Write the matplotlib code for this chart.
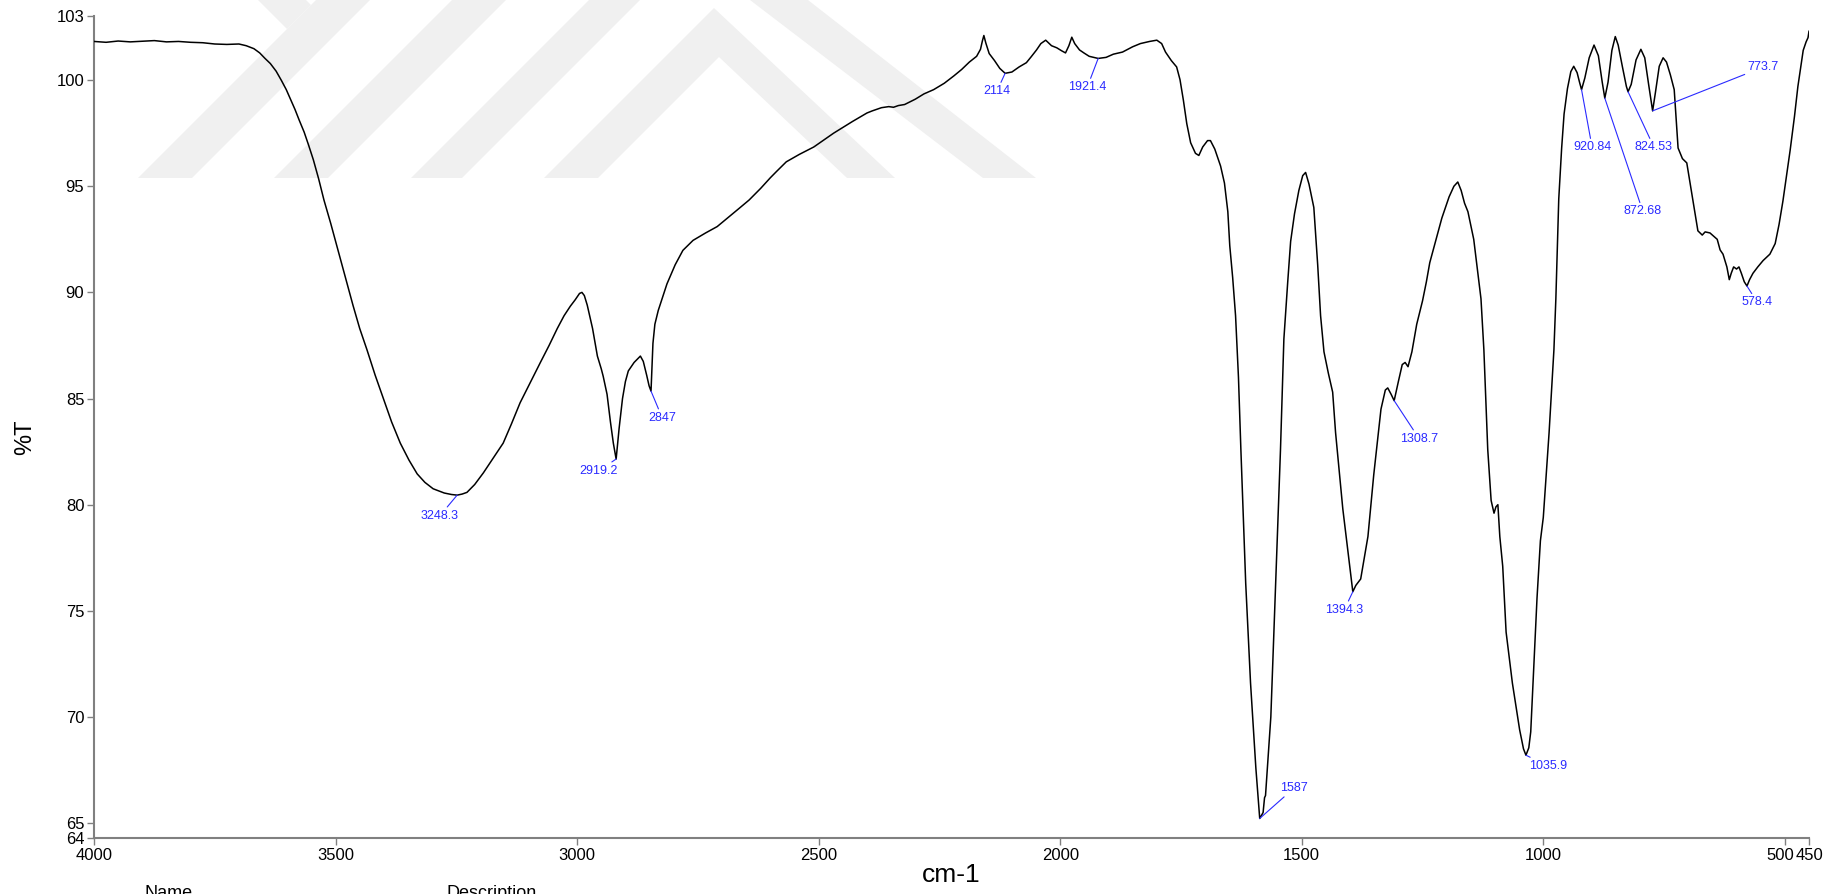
import matplotlib.pyplot as plt
from matplotlib.patches import Polygon
from matplotlib.transforms import Affine2D, ScaledTranslation
import numpy as np

plt.rcParams['font.family'] = ['Liberation Sans', 'DejaVu Sans']

# IR spectrum, wavenumber (cm-1) against transmittance (%T)
wavenumber = [
    4000, 3975, 3950, 3925, 3900, 3875, 3850, 3825, 3800, 3775, 3750, 3725,
    3700, 3685, 3669, 3657, 3646, 3635, 3623, 3612, 3602, 3593, 3584, 3575,
    3565, 3556, 3546, 3535, 3524, 3510, 3495, 3480, 3464, 3450, 3435, 3418,
    3401, 3384, 3366, 3348, 3331, 3315, 3298, 3275, 3260, 3248.3, 3238, 3228,
    3212, 3194, 3175, 3153, 3136, 3118, 3097, 3076, 3058, 3041, 3027, 3014,
    3004, 2995, 2990, 2985, 2979, 2968, 2958, 2950, 2946, 2938, 2931, 2925,
    2919.2, 2913, 2906, 2900, 2894, 2882, 2869, 2863, 2856, 2851, 2847, 2843,
    2839, 2832, 2822, 2814, 2797, 2781, 2760, 2734, 2710, 2686, 2665, 2644,
    2620, 2600, 2587, 2567, 2540, 2510, 2469, 2430, 2400, 2389, 2370, 2355,
    2345, 2335, 2322, 2300, 2282, 2262, 2240, 2220, 2204, 2188, 2173, 2165,
    2161, 2158, 2154, 2147, 2136, 2125, 2114, 2100, 2085, 2070, 2060, 2049,
    2040, 2030, 2018, 2007, 1997, 1989, 1982, 1976, 1970, 1960, 1951, 1940,
    1921.4, 1905, 1890, 1871, 1850, 1834, 1815, 1800, 1790, 1782, 1770, 1759,
    1752, 1745, 1738, 1730, 1720, 1713, 1705, 1695, 1689, 1680, 1668, 1660,
    1653, 1649, 1643, 1637, 1631, 1626, 1616, 1606, 1595, 1587, 1580, 1577,
    1575, 1564, 1554, 1544, 1537, 1529, 1523, 1515, 1506, 1498, 1492, 1485,
    1475, 1467, 1461, 1454, 1445, 1436, 1430, 1415, 1405, 1398, 1394.3, 1388,
    1383, 1378, 1363, 1351, 1336, 1327, 1322, 1315, 1308.7, 1300, 1292, 1286,
    1280, 1272, 1262, 1250, 1242, 1235, 1222, 1210, 1195, 1185, 1177, 1170,
    1163, 1156, 1144, 1129, 1123, 1115, 1108, 1102, 1098, 1094, 1090, 1084,
    1077, 1064, 1049, 1041, 1035.9, 1030, 1026, 1020, 1013, 1006, 1000, 988,
    978, 974, 968, 962, 957, 950, 943, 937, 930, 925, 920.84, 914,
    905, 895, 886, 878, 872.68, 866, 858, 851, 845, 836, 828, 824.53,
    818, 808, 798, 790, 782, 773.7, 768, 760, 752, 745, 737, 729,
    721, 712, 703, 690, 680, 671, 665, 655, 640, 634, 628, 620,
    615, 611, 606, 600, 595, 590, 584, 578.4, 573, 566, 556, 545,
    531, 520, 512, 504, 496, 489, 480, 473, 466, 462, 456, 452,
    450,
]
transmittance = [
    101.82, 101.78, 101.84, 101.80, 101.83, 101.86, 101.80, 101.82, 101.78, 101.76, 101.70, 101.68,
    101.70, 101.62, 101.48, 101.28, 101.02, 100.78, 100.42, 99.98, 99.55, 99.08, 98.62, 98.10,
    97.55, 96.95, 96.25, 95.35, 94.35, 93.25, 92.00, 90.75, 89.40, 88.30, 87.30, 86.10,
    85.00, 83.90, 82.90, 82.10, 81.45, 81.05, 80.75, 80.55, 80.48, 80.45, 80.50, 80.58,
    80.95, 81.50, 82.15, 82.90, 83.80, 84.80, 85.75, 86.70, 87.50, 88.30, 88.90, 89.35,
    89.65, 89.95, 90.00, 89.85, 89.40, 88.30, 87.00, 86.40, 86.05, 85.20, 83.90, 82.90,
    82.15, 83.60, 85.00, 85.80, 86.30, 86.70, 87.00, 86.75, 86.10, 85.60, 85.35, 87.60,
    88.50, 89.15, 89.85, 90.40, 91.30, 91.98, 92.45, 92.80, 93.10, 93.55, 93.95, 94.35,
    94.90, 95.40, 95.70, 96.15, 96.50, 96.85, 97.50, 98.05, 98.45, 98.55, 98.70, 98.75,
    98.72, 98.80, 98.85, 99.10, 99.35, 99.55, 99.85, 100.20, 100.50, 100.85, 101.12, 101.45,
    101.85, 102.10, 101.75, 101.25, 100.92, 100.55, 100.32, 100.38, 100.62, 100.82, 101.10, 101.42,
    101.72, 101.88, 101.62, 101.52, 101.38, 101.28, 101.62, 102.02, 101.72, 101.42, 101.28, 101.12,
    101.02, 101.07, 101.22, 101.32, 101.57, 101.72, 101.82, 101.88, 101.72, 101.32, 100.92, 100.62,
    100.02, 99.05, 97.95, 97.05, 96.55, 96.45, 96.85, 97.15, 97.15, 96.75, 95.95, 95.15,
    93.80, 92.20, 90.70, 88.90, 86.00, 82.60, 76.30, 71.60, 67.60, 65.22, 65.50, 66.20,
    66.30, 70.00, 76.30, 82.60, 87.80, 90.50, 92.40, 93.70, 94.80, 95.50, 95.65, 95.10,
    94.00, 91.30, 88.90, 87.20, 86.20, 85.30, 83.40, 79.80, 77.90, 76.60, 75.90, 76.20,
    76.35, 76.50, 78.50, 81.40, 84.50, 85.40, 85.50, 85.20, 84.90, 85.80, 86.60, 86.70,
    86.50, 87.20, 88.50, 89.60, 90.50, 91.40, 92.50, 93.50, 94.50, 95.00, 95.20, 94.80,
    94.20, 93.80, 92.50, 89.70, 87.30, 82.60, 80.20, 79.60, 79.90, 80.00, 78.50, 77.10,
    74.00, 71.60, 69.40, 68.50, 68.20, 68.55, 69.30, 72.20, 75.60, 78.30, 79.40, 83.40,
    87.30, 89.70, 94.40, 96.80, 98.40, 99.60, 100.40, 100.65, 100.35, 99.90, 99.55, 100.10,
    101.05, 101.65, 101.15, 99.90, 99.15, 99.90, 101.40, 102.05, 101.65, 100.60, 99.70, 99.45,
    99.80, 100.95, 101.45, 101.05, 99.80, 98.55, 99.40, 100.65, 101.05, 100.85, 100.25, 99.55,
    96.80, 96.30, 96.10, 94.30, 92.90, 92.70, 92.85, 92.80, 92.50, 92.00, 91.80, 91.20,
    90.60, 90.90, 91.20, 91.10, 91.20, 90.90, 90.50, 90.30, 90.60, 90.90, 91.20, 91.50,
    91.80, 92.30, 93.20, 94.30, 95.60, 96.70, 98.30, 99.70, 100.80, 101.40, 101.80, 102.00,
    102.30,
]

peak_positions = [3248.3, 2919.2, 2847, 2114, 1921.4, 1587, 1394.3, 1308.7,
                  1035.9, 920.84, 872.68, 824.53, 773.7, 578.4]
peak_labels = ['3248.3', '2919.2', '2847', '2114', '1921.4', '1587', '1394.3',
               '1308.7', '1035.9', '920.84', '872.68', '824.53', '773.7', '578.4']

x_ticks = [4000, 3500, 3000, 2500, 2000, 1500, 1000, 500, 450]
y_ticks = [64.3, 65, 70, 75, 80, 85, 90, 95, 100, 103]
y_tick_labels = ['64', '65', '70', '75', '80', '85', '90', '95', '100', '103']

# where the peak labels sit, in (cm-1, %T)
label_spots = [(3284, 79.48), (2955, 81.6), (2824, 84.1), (2131, 99.48),
               (1944, 99.67), (1516, 66.65), (1412, 75.05), (1257, 83.11),
               (990, 67.69), (899, 96.84), (794, 93.82), (771, 96.84),
               (545, 100.61), (557, 89.53)]

W, H = 1843, 894
BLUE = '#2a2aff'
GREY = '#808080'

fig = plt.figure(figsize=(W / 100, H / 100), dpi=100)

# faint watermark behind the plot, outlined in pixels from the top-left corner
px = Affine2D().scale(1 / W, -1 / H).translate(0, 1) + fig.transFigure
watermark = [
    [(138, 178), (192, 178), (370, 0), (316, 0)],
    [(258, 0), (306, 0), (311, 5), (287, 29)],
    [(274, 178), (328, 178), (506, 0), (452, 0)],
    [(411, 178), (462, 178), (640, 0), (589, 0)],
    [(544, 178), (598, 178), (719, 57), (847, 178), (895, 178), (714, 8)],
    [(750, 0), (808, 0), (1036, 178), (983, 178)],
]
for pts in watermark:
    fig.add_artist(Polygon(pts, closed=True, transform=px, facecolor='#f0f0f0',
                           edgecolor='none', zorder=-10))

ax = fig.add_axes([94 / W, 1 - 838 / H, (1809 - 94) / W, (838 - 16.4) / H])
ax.set_facecolor('none')

ax.plot(wavenumber, transmittance, color='black', lw=1.1, zorder=3)

ax.set_xlim(4000, 450)
ax.set_ylim(64.3, 103)
ax.set_xticks(x_ticks)
ax.set_xticklabels([str(t) for t in x_ticks])
ax.set_yticks(y_ticks)
ax.set_yticklabels(y_tick_labels)

for side in ['top', 'right']:
    ax.spines[side].set_visible(False)
for side in ['left', 'bottom']:
    ax.spines[side].set_color(GREY)
    ax.spines[side].set_linewidth(1.5)
ax.tick_params(direction='out', length=5, width=1, color=GREY,
               labelsize=12, pad=2, labelcolor='black')

# nudge "500" left so it sits against "450"
lab500 = ax.get_xticklabels()[7]
lab500.set_transform(lab500.get_transform()
                     + ScaledTranslation(-5 / 100, 0, fig.dpi_scale_trans))

ax.set_xlabel('cm-1', fontsize=19)
ax.xaxis.set_label_coords(0.5, -0.030)
ax.set_ylabel('%T', fontsize=17)
ax.yaxis.set_label_coords(-0.034, 0.4875)

wn_up = np.array(wavenumber)[::-1]
tr_up = np.array(transmittance)[::-1]
for pos, lab, spot in zip(peak_positions, peak_labels, label_spots):
    t = np.interp(pos, wn_up, tr_up)
    ax.annotate(lab, xy=(pos, t), xytext=spot, ha='center', va='center',
                fontsize=9, color=BLUE, zorder=4,
                arrowprops=dict(arrowstyle='-', color=BLUE, lw=0.8,
                                shrinkA=0, shrinkB=0))

fig.text(145 / W, 1 - 885 / H, 'Name', va='top', fontsize=13)
fig.text(447 / W, 1 - 885 / H, 'Description', va='top', fontsize=13)

fig.savefig('out.png', dpi=100)
